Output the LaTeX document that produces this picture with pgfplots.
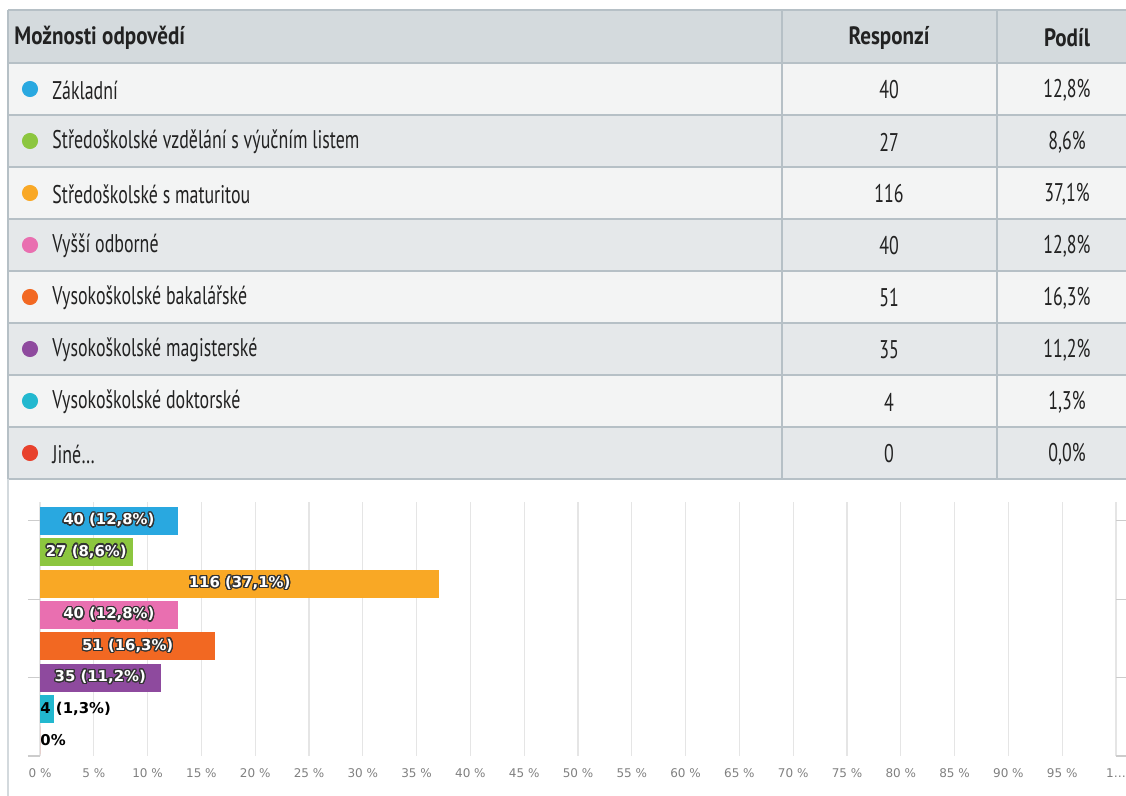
\documentclass[border=0pt]{standalone}
\usepackage{pgfplots}
\pgfplotsset{compat=1.18}
\usepackage{fontspec}
\usepackage{contour}
\setmainfont{PT Sans}
\newfontfamily\tabfont{PT Sans}[FakeStretch=0.70]
\newfontfamily\tabhead{PT Sans}[FakeStretch=0.84]
\newfontfamily\dejavu{DejaVu Sans}
\contourlength{0.55pt}
\contournumber{24}

\definecolor{cZak}{HTML}{29A8E0}
\definecolor{cVyu}{HTML}{8CC63F}
\definecolor{cMat}{HTML}{F9A825}
\definecolor{cVos}{HTML}{E96FB0}
\definecolor{cBak}{HTML}{F26822}
\definecolor{cMag}{HTML}{8E4A9E}
\definecolor{cDok}{HTML}{22B8CF}
\definecolor{cJin}{HTML}{E8412C}
\definecolor{hdr}{HTML}{D4DADD}
\definecolor{rowA}{HTML}{F3F4F4}
\definecolor{rowB}{HTML}{E5E8EA}
\definecolor{brd}{HTML}{B6C0C6}
\definecolor{txt}{HTML}{222222}

\begin{document}
\begin{tikzpicture}
\useasboundingbox (0,0) rectangle (506.7pt,358.2pt);
% table, in pixel units of the screenshot
\begin{axis}[
    at={(0,0)}, anchor=south west,
    scale only axis, width=506.7pt, height=358.2pt,
    xmin=0, xmax=1126, ymin=0, ymax=796, y dir=reverse,
    hide axis, clip=false,
]
\fill[hdr] (8,10) rectangle (1126,63);
\fill[rowA] (8,63) rectangle (1126,115);
\fill[rowB] (8,115) rectangle (1126,167);
\fill[rowA] (8,167) rectangle (1126,219);
\fill[rowB] (8,219) rectangle (1126,271);
\fill[rowA] (8,271) rectangle (1126,323);
\fill[rowB] (8,323) rectangle (1126,375);
\fill[rowA] (8,375) rectangle (1126,427);
\fill[rowB] (8,427) rectangle (1126,479);
\pgfplotsinvokeforeach{10,63,115,167,219,271,323,375,427,479}{
  \draw[brd, line width=0.7pt] (8,#1) -- (1126,#1);}
\draw[brd, line width=0.7pt] (8,10) -- (8,479);
\draw[brd, line width=0.7pt] (782,10) -- (782,479);
\draw[brd, line width=0.7pt] (997,10) -- (997,479);
\draw[brd!60, line width=0.7pt] (8,479) -- (8,796);

\addplot[only marks, mark=*, mark size=3.4pt, cZak] coordinates {(30,89)};
\addplot[only marks, mark=*, mark size=3.4pt, cVyu] coordinates {(30,141)};
\addplot[only marks, mark=*, mark size=3.4pt, cMat] coordinates {(30,193)};
\addplot[only marks, mark=*, mark size=3.4pt, cVos] coordinates {(30,245)};
\addplot[only marks, mark=*, mark size=3.4pt, cBak] coordinates {(30,297)};
\addplot[only marks, mark=*, mark size=3.4pt, cMag] coordinates {(30,349)};
\addplot[only marks, mark=*, mark size=3.4pt, cDok] coordinates {(30,401)};
\addplot[only marks, mark=*, mark size=3.4pt, cJin] coordinates {(30,453)};

\tikzset{tt/.style={text=txt, inner sep=0pt, font=\tabfont\fontsize{11.5}{13}\selectfont},
  th/.style={text=txt, inner sep=0pt, font=\tabhead\bfseries\fontsize{11.3}{13}\selectfont}}
\node[th, anchor=west] at (14,38) {Možnosti odpovědí};
\node[th] at (889,38) {Responzí};
\node[th] at (1067,38) {Podíl};

\node[tt, anchor=west] at (52,90) {Základní};
\node[tt, anchor=west] at (52,142) {Středoškolské vzdělání s výučním listem};
\node[tt, anchor=west] at (52,194) {Středoškolské s maturitou};
\node[tt, anchor=west] at (52,246) {Vyšší odborné};
\node[tt, anchor=west] at (52,298) {Vysokoškolské bakalářské};
\node[tt, anchor=west] at (52,350) {Vysokoškolské magisterské};
\node[tt, anchor=west] at (52,402) {Vysokoškolské doktorské};
\node[tt, anchor=west] at (52,454) {Jiné\ldots};

\node[tt] at (889,90) {40};   \node[tt] at (1067,90) {12,8\%};
\node[tt] at (889,142) {27};  \node[tt] at (1067,142) {8,6\%};
\node[tt] at (889,194) {116}; \node[tt] at (1067,194) {37,1\%};
\node[tt] at (889,246) {40};  \node[tt] at (1067,246) {12,8\%};
\node[tt] at (889,298) {51};  \node[tt] at (1067,298) {16,3\%};
\node[tt] at (889,350) {35};  \node[tt] at (1067,350) {11,2\%};
\node[tt] at (889,402) {4};   \node[tt] at (1067,402) {1,3\%};
\node[tt] at (889,454) {0};   \node[tt] at (1067,454) {0,0\%};
\end{axis}

% bar chart
\begin{axis}[
    at={(18pt,18pt)}, anchor=south west,
    scale only axis, width=484.2pt, height=114.3pt,
    xmin=0, xmax=100, ymin=-0.6, ymax=7.5, y dir=reverse,
    xbar, bar width=12.6pt, bar shift=0pt,
    axis line style={draw=none},
    xtick={0,5,...,100},
    xticklabels={0 \%,5 \%,10 \%,15 \%,20 \%,25 \%,30 \%,35 \%,40 \%,45 \%,50 \%,55 \%,60 \%,65 \%,70 \%,75 \%,80 \%,85 \%,90 \%,95 \%,1…},
    xmajorgrids, grid style={black!10, line width=0.5pt},
    major x tick style={draw=none},
    ytick={0,2.5,5,7.5}, yticklabels={},
    major y tick style={black!20, line width=0.5pt},
    tick align=outside, major tick length=5.4pt,
    xticklabel style={font=\dejavu\fontsize{5.4}{6.5}\selectfont, text=black!50, inner sep=1pt, yshift=1pt},
    clip=false,
]
\addplot[fill=cZak, draw=none] coordinates {(12.8,0)};
\addplot[fill=cVyu, draw=none] coordinates {(8.6,1)};
\addplot[fill=cMat, draw=none] coordinates {(37.1,2)};
\addplot[fill=cVos, draw=none] coordinates {(12.8,3)};
\addplot[fill=cBak, draw=none] coordinates {(16.3,4)};
\addplot[fill=cMag, draw=none] coordinates {(11.2,5)};
\addplot[fill=cDok, draw=none] coordinates {(1.3,6)};
\addplot[fill=cJin, draw=none] coordinates {(0,7)};

\tikzset{bl/.style={text=white, inner sep=0pt, font=\dejavu\bfseries\fontsize{6.7}{8}\selectfont}}
\node[bl] at (6.4,0) {\contour{black!80}{40 (12,8\%)}};
\node[bl] at (4.3,1) {\contour{black!80}{27 (8,6\%)}};
\node[bl] at (18.55,2) {\contour{black!80}{116 (37,1\%)}};
\node[bl] at (6.4,3) {\contour{black!80}{40 (12,8\%)}};
\node[bl] at (8.15,4) {\contour{black!80}{51 (16,3\%)}};
\node[bl] at (5.6,5) {\contour{black!80}{35 (11,2\%)}};
\node[bl, text=black, anchor=west] at (0,6) {4 (1,3\%)};
\node[bl, text=black, anchor=west] at (0,7) {0\%};
\end{axis}
\end{tikzpicture}
\end{document}
